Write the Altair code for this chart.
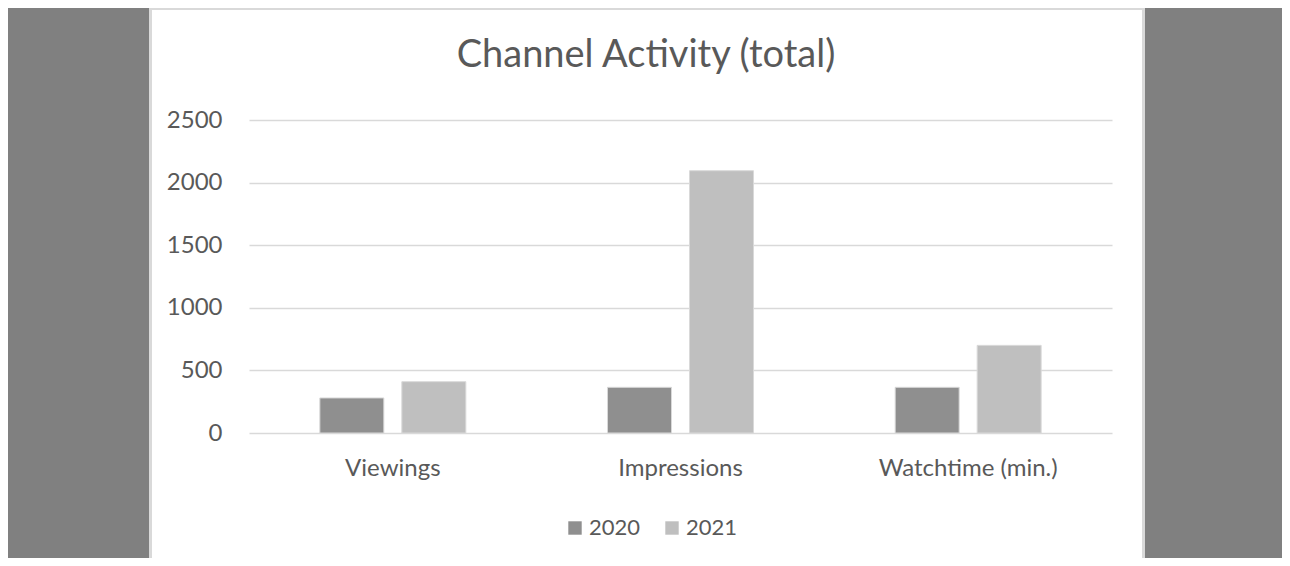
import altair as alt
import pandas as pd

categories = ["Viewings", "Impressions", "Watchtime (min.)"]
years = ["2020", "2021"]
values_2020 = [280, 365, 365]
values_2021 = [410, 2095, 700]
y_ticks = [0, 500, 1000, 1500, 2000, 2500]
colors = ["#8f8f8f", "#bfbfbf"]
title_text = "Channel Activity (total)"

rows = []
for c, a, b in zip(categories, values_2020, values_2021):
    rows.append({"category": c, "year": "2020", "value": a})
    rows.append({"category": c, "year": "2021", "value": b})
df = pd.DataFrame(rows)

FONT = "Lato"
TXT = "#595959"
W, H = 863, 313

one = alt.Data(values=[{}])

left_gray = alt.Chart(one).mark_rect(color="#808080").encode(
    x=alt.value(-300), x2=alt.value(-100), y=alt.value(-112), y2=alt.value(500)
)
right_gray = alt.Chart(one).mark_rect(color="#808080").encode(
    x=alt.value(896), x2=alt.value(1300), y=alt.value(-112), y2=alt.value(500)
)
frame = alt.Chart(one).mark_rect(fill="white", fillOpacity=0, stroke="#d9d9d9", strokeWidth=3).encode(
    x=alt.value(-98.5), x2=alt.value(894.5), y=alt.value(-111.5), y2=alt.value(500)
)
title = alt.Chart(one).mark_text(font=FONT, fontSize=38, color=TXT, align="center",
                                 baseline="alphabetic").encode(
    x=alt.value(397), y=alt.value(-53), text=alt.value(title_text)
)

bars = alt.Chart(df).mark_bar(stroke="#d9d9d9", strokeWidth=1).encode(
    x=alt.X("category:N", sort=categories, title=None,
            scale=alt.Scale(paddingInner=0, paddingOuter=0),
            axis=alt.Axis(labelAngle=0, domain=False, ticks=False, labelFont=FONT,
                          labelFontSize=24, labelColor=TXT, labelPadding=23, grid=False)),
    xOffset=alt.XOffset("year:N", sort=years,
                        scale=alt.Scale(paddingInner=0.2195, paddingOuter=0.864)),
    y=alt.Y("value:Q", title=None,
            scale=alt.Scale(domain=[0, 2500], nice=False),
            axis=alt.Axis(values=y_ticks, format="d", domain=False, ticks=False, labelFont=FONT,
                          labelFontSize=24, labelColor=TXT, labelPadding=27,
                          grid=True, gridColor="#d9d9d9", gridWidth=1.3)),
    color=alt.Color("year:N", sort=years, scale=alt.Scale(domain=years, range=colors),
                    legend=alt.Legend(orient="none", legendX=315, legendY=397,
                                      direction="horizontal", title=None,
                                      symbolType="square", symbolSize=180,
                                      symbolStrokeWidth=0, labelFont=FONT,
                                      labelFontSize=22, labelColor=TXT,
                                      labelOffset=3, columnPadding=20, padding=0)),
)

chart = alt.layer(left_gray, right_gray, frame, title, bars).properties(
    width=W, height=H,
    autosize=alt.AutoSizeParams(type="none"),
    padding={"left": 241, "top": 112, "right": 170, "bottom": 125},
    background="white",
).configure_view(stroke=None)

chart.save("out.html", embed_options={"renderer": "svg", "actions": False})
